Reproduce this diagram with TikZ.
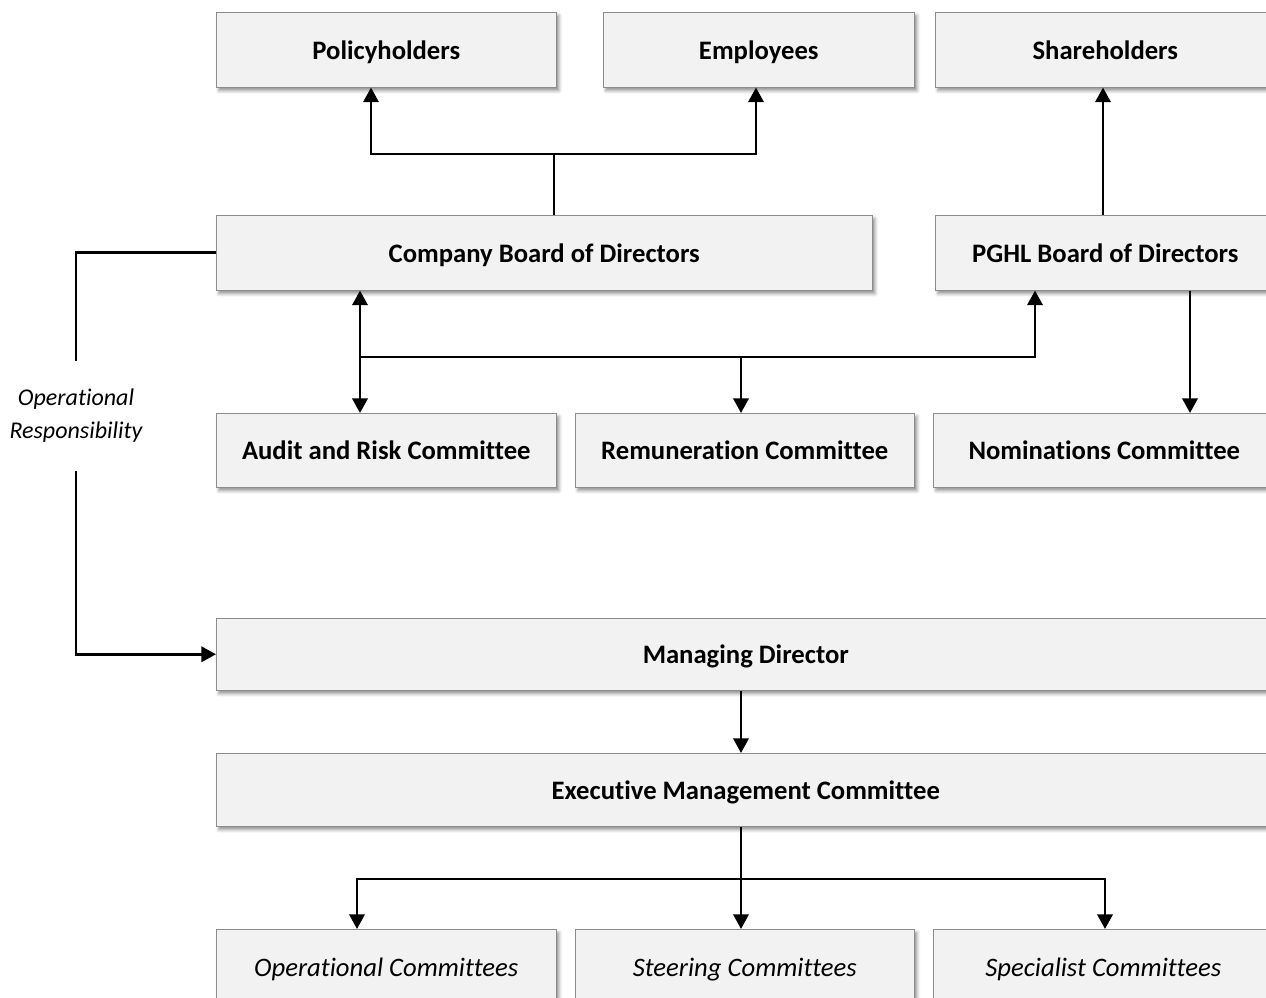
\documentclass[tikz,border=0pt]{standalone}
\usepackage{fontspec}
\setmainfont{Carlito}[Ligatures=NoCommon]
\usepackage{tikz}
\usetikzlibrary{arrows.meta,shadows.blur}

\tikzset{
  box/.style={draw=black!45, fill=black!5, inner sep=0pt, anchor=north west,
    text height=15pt, text depth=0.5pt,
    font=\bfseries\fontsize{20}{24}\selectfont,
    blur shadow={shadow xshift=2pt, shadow yshift=-2.5pt, shadow blur radius=2.5pt,
      shadow opacity=45}},
  sub/.style={box, font=\itshape\fontsize{20}{24}\selectfont},
  link/.style={line width=2pt},
  >={Triangle[length=11pt,width=11.5pt]}
}

\begin{document}
\begin{tikzpicture}[x=0.75pt, y=-0.75pt]
  \useasboundingbox (0,0) rectangle (1266,997);
  \clip (0,0) rectangle (1266,997);

  % owners
  \node[box, minimum width=255pt, minimum height=56.25pt] (POL) at (216,12) {Policyholders};
  \node[box, minimum width=233.25pt, minimum height=56.25pt] (EMP) at (603,12) {Employees};
  \node[box, minimum width=255pt, minimum height=56.25pt] (SHR) at (935,12) {Shareholders};

  % boards
  \node[box, minimum width=492pt, minimum height=56.25pt] (CBD) at (216,215) {Company Board of Directors};
  \node[box, minimum width=255pt, minimum height=56.25pt] (PBD) at (935,215) {PGHL Board of Directors};

  % board committees
  \node[box, minimum width=255pt, minimum height=55.5pt] (ARC) at (216,413) {Audit and Risk Committee};
  \node[box, minimum width=254.25pt, minimum height=55.5pt] (REM) at (575,413) {Remuneration Committee};
  \node[box, minimum width=256.5pt, minimum height=55.5pt] (NOM) at (933,413) {Nominations Committee};

  % management
  \node[box, minimum width=794.25pt, minimum height=54pt] (MD) at (216,618) {Managing Director};
  \node[box, minimum width=794.25pt, minimum height=54.75pt] (EMC) at (216,753) {Executive Management Committee};

  \node[sub, minimum width=255pt, minimum height=56.25pt] (OPC) at (216,929) {Operational Committees};
  \node[sub, minimum width=254.25pt, minimum height=56.25pt] (STC) at (575,929) {Steering Committees};
  \node[sub, minimum width=255pt, minimum height=56.25pt] (SPC) at (933,929) {Specialist Committees};

  \node[align=center, inner sep=0pt, minimum height=82.5pt,
    font=\itshape\fontsize{18}{24.75}\selectfont] (RESP) at (76,416) {Operational\\Responsibility};

  % top links
  \coordinate (B1) at (554,154);
  \draw[link] (CBD.north -| B1) -- (B1);
  \draw[link,->] (B1) -| (POL.south -| 371,0);
  \draw[link,->] (B1) -| (EMP.south -| 756,0);
  \draw[link,->] (PBD.north -| 1103,0) -- (SHR.south -| 1103,0);

  % committee links
  \coordinate (B2) at (360,357);
  \draw[link,->] (B2) -- (CBD.south -| B2);
  \draw[link,->] (B2) -- (ARC.north -| B2);
  \draw[link,->] (B2) -| (PBD.south -| 1035,0);
  \draw[link,->] (B2 -| 741,0) -- (REM.north -| 741,0);
  \draw[link,->] (PBD.south -| 1190,0) -- (NOM.north -| 1190,0);

  % operational responsibility
  \draw[link] (CBD.west) -| (RESP.north);
  \draw[link,->] (RESP.south) |- (MD.west);

  % management links
  \draw[link,->] (MD.south -| 741,0) -- (EMC.north -| 741,0);
  \coordinate (B3) at (741,879);
  \draw[link,->] (EMC.south -| B3) -- (STC.north -| B3);
  \draw[link,->] (B3) -| (OPC.north -| 357,0);
  \draw[link,->] (B3) -| (SPC.north -| 1105,0);
\end{tikzpicture}
\end{document}
